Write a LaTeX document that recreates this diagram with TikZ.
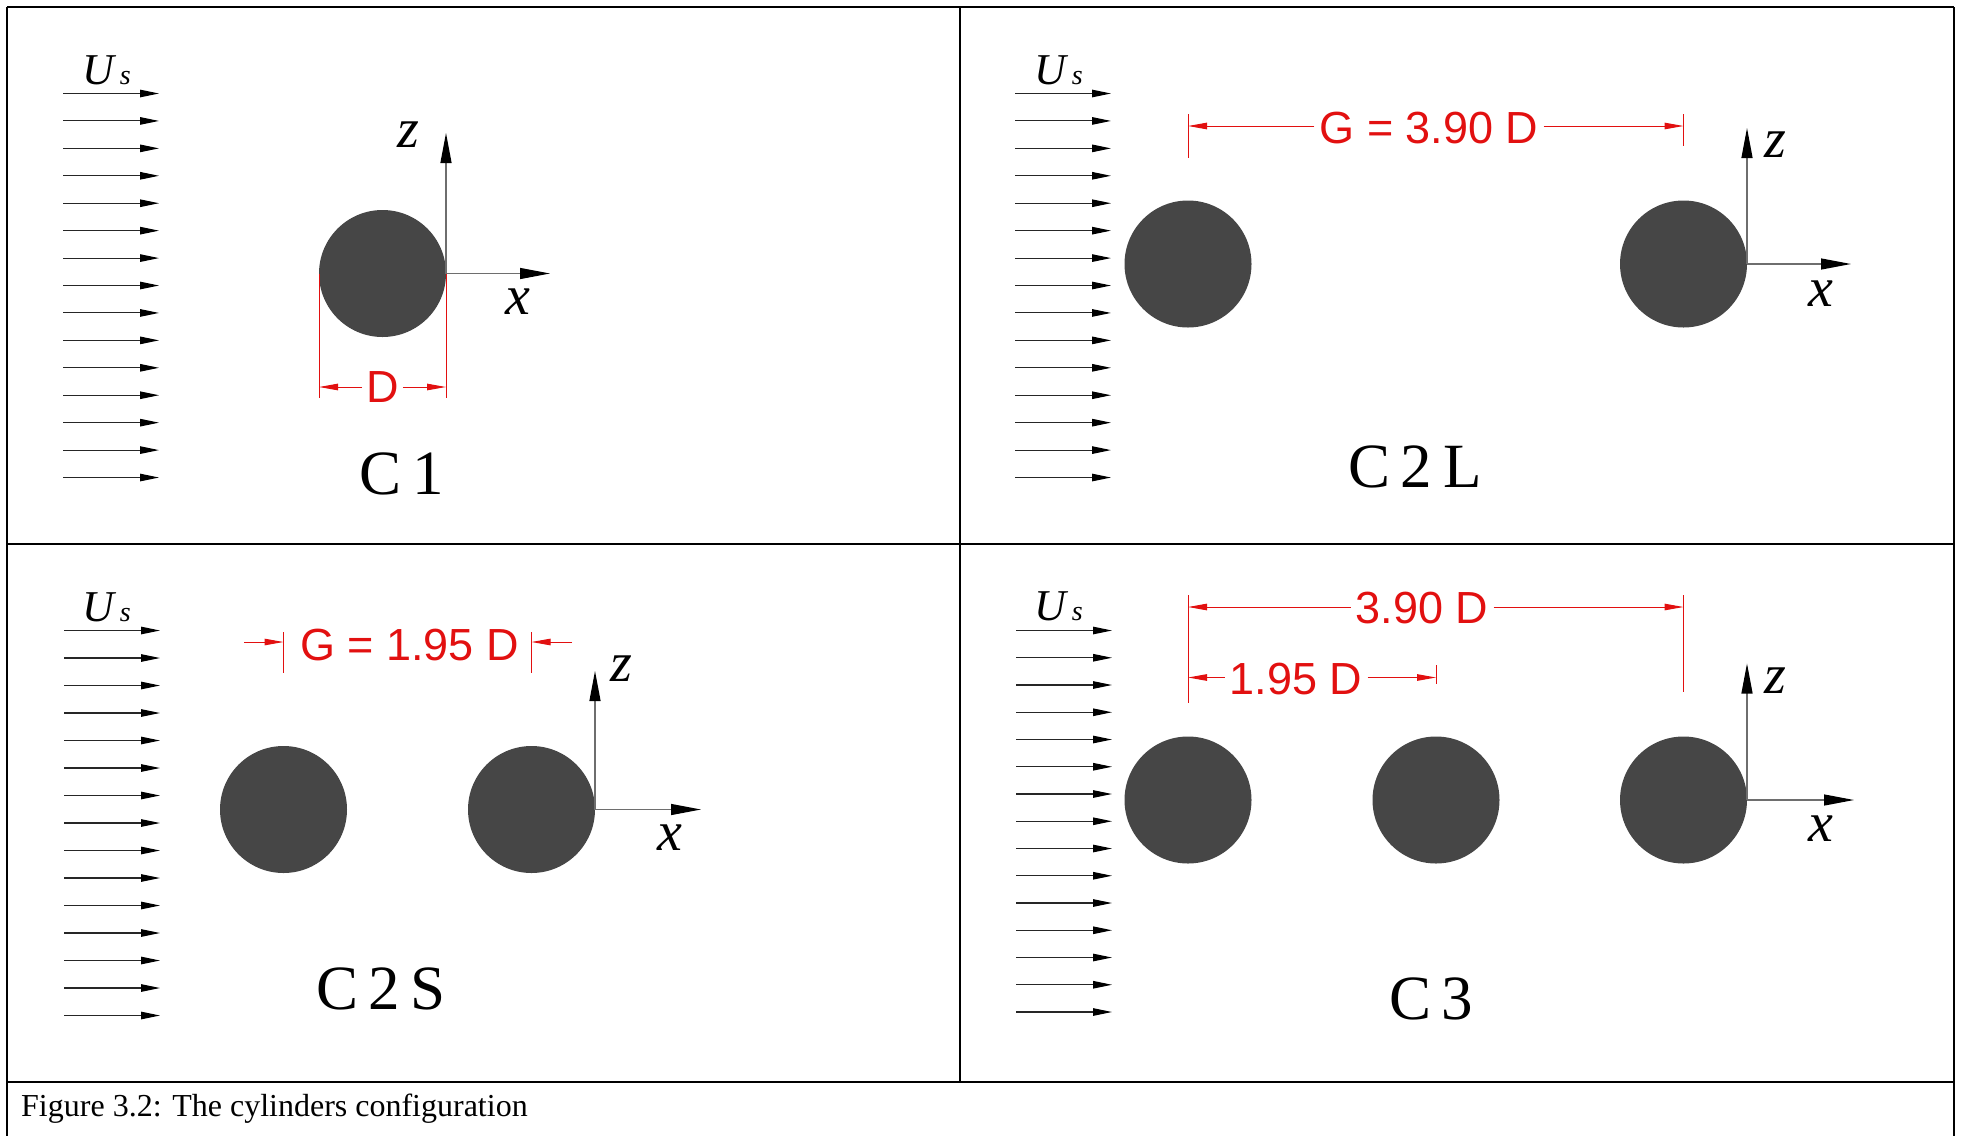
\documentclass[tikz,border=0pt]{standalone}
\usepackage{fontspec}
\setmainfont{Liberation Serif}
\newfontfamily\arialfont{Liberation Sans}
\usetikzlibrary{arrows.meta}
\definecolor{cylgray}{RGB}{70,70,70}
\definecolor{dimred}{RGB}{226,16,16}
\definecolor{axgray}{RGB}{110,110,110}
\newcommand{\flowcol}[4]{%
  \foreach \k in {0,...,14}{%
    \coordinate (#1s\k) at (#2,{#3+#4*\k});
    \coordinate (#1e\k) at ({#2+96},{#3+#4*\k});
    \draw[flowarrow] (#1s\k) -- (#1e\k);
  }}
\begin{document}
\begin{tikzpicture}[x=1pt,y=-1pt,
  frame/.style={line width=2.2pt,black},
  flowarrow/.style={line width=1.1pt,black!85,-{Triangle[length=19pt,width=7.5pt,color=black]}},
  cylbody/.style={circle,fill=cylgray,minimum size=127pt,inner sep=0pt},
  axisline/.style={line width=1.2pt,axgray,-{Triangle[length=30pt,width=11pt,color=black]}},
  axlbl/.style={inner sep=0pt,font=\fontsize{56}{56}\selectfont\itshape},
  uslbl/.style={anchor=base west,inner sep=0pt},
  cfg/.style={anchor=base,inner sep=0pt,font=\fontsize{63}{63}\selectfont},
  dimtext/.style={inner sep=5pt,text=dimred,font=\fontsize{45}{45}\selectfont\arialfont},
  dimarrow/.style={line width=1pt,dimred,-{Triangle[length=19pt,width=6.5pt]}},
  extline/.style={line width=1pt,dimred}
]
\useasboundingbox (0,0) rectangle (1963,1136);
% frame
\draw[frame] (7,7) -- (1954,7);
\draw[frame] (7,7) -- (7,1136);
\draw[frame] (1954,7) -- (1954,1136);
\draw[frame] (7,543.7) -- (1954,543.7);
\draw[frame] (960,7) -- (960,1082);
\draw[frame] (7,1082) -- (1954,1082);

% ---------- C1 ----------
\flowcol{fa}{63}{93.5}{27.43}
\node[uslbl] (us1) at (82,84) {\fontsize{44}{44}\selectfont\itshape U\hspace{6pt}\fontsize{28}{28}\selectfont s};
\node[cylbody] (c1a) at (382.5,273.5) {};
\coordinate (o1) at (446,273.5);
\coordinate (z1) at (446,133);
\coordinate (x1) at (550,273.5);
\draw[axisline] (o1) -- (z1);
\draw[axisline] (o1) -- (x1);
\node[axlbl] (zl1) at (408,135) {z};
\node[axlbl] (xl1) at (518,302) {x};
\coordinate (e1at) at (319,273.5);
\coordinate (e1ab) at (319,398);
\coordinate (e1bt) at (446,273.5);
\coordinate (e1bb) at (446,398);
\draw[extline] (e1at) -- (e1ab);
\draw[extline] (e1bt) -- (e1bb);
\node[dimtext,inner sep=4pt] (dD) at (382.5,387) {D};
\coordinate (d1l) at (319,387);
\coordinate (d1r) at (446,387);
\draw[dimarrow] (dD.west |- d1l) -- (d1l);
\draw[dimarrow] (dD.east |- d1r) -- (d1r);
\node[cfg] (lc1) at (402,494.5) {C\,1};

% ---------- C2L ----------
\flowcol{fb}{1015}{93.5}{27.43}
\node[uslbl] (us2) at (1034,84) {\fontsize{44}{44}\selectfont\itshape U\hspace{6pt}\fontsize{28}{28}\selectfont s};
\node[cylbody] (c2a) at (1188,264) {};
\node[cylbody] (c2b) at (1683.5,264) {};
\coordinate (o2) at (1747,264);
\coordinate (z2) at (1747,128);
\coordinate (x2) at (1851,264);
\draw[axisline] (o2) -- (z2);
\draw[axisline] (o2) -- (x2);
\node[axlbl] (zl2) at (1775,145) {z};
\node[axlbl] (xl2) at (1820.5,294) {x};
\coordinate (e2at) at (1188,114);
\coordinate (e2ab) at (1188,158);
\coordinate (e2bt) at (1683.5,114);
\coordinate (e2bb) at (1683.5,146);
\draw[extline] (e2at) -- (e2ab);
\draw[extline] (e2bt) -- (e2bb);
\node[dimtext] (dG1) at (1429,128) {G = 3.90 D};
\coordinate (d2l) at (1188,126);
\coordinate (d2r) at (1683.5,126);
\draw[dimarrow] (dG1.west |- d2l) -- (d2l);
\draw[dimarrow] (dG1.east |- d2r) -- (d2r);
\node[cfg] (lc2) at (1415,487) {C\,2\,L};

% ---------- C2S ----------
\flowcol{fc}{64}{630.5}{27.5}
\node[uslbl] (us3) at (82,621.5) {\fontsize{44}{44}\selectfont\itshape U\hspace{6pt}\fontsize{28}{28}\selectfont s};
\node[cylbody] (c3a) at (283.5,809.5) {};
\node[cylbody] (c3b) at (531.5,809.5) {};
\coordinate (o3) at (595,809.5);
\coordinate (z3) at (595,671);
\coordinate (x3) at (701,809.5);
\draw[axisline] (o3) -- (z3);
\draw[axisline] (o3) -- (x3);
\node[axlbl] (zl3) at (621.5,669) {z};
\node[axlbl] (xl3) at (670,838) {x};
\coordinate (e3at) at (283.5,632);
\coordinate (e3ab) at (283.5,673);
\coordinate (e3bt) at (531.5,632);
\coordinate (e3bb) at (531.5,673);
\draw[extline] (e3at) -- (e3ab);
\draw[extline] (e3bt) -- (e3bb);
\node[dimtext] (dG2) at (409.5,645) {G = 1.95 D};
\coordinate (d3lo) at (244,642);
\coordinate (d3l) at (283.5,642);
\coordinate (d3ro) at (572,642);
\coordinate (d3r) at (531.5,642);
\draw[dimarrow] (d3lo) -- (d3l);
\draw[dimarrow] (d3ro) -- (d3r);
\node[cfg] (lc3) at (381,1009) {C\,2\,S};

% ---------- C3 ----------
\flowcol{fd}{1016}{630.5}{27.25}
\node[uslbl] (us4) at (1034,620.5) {\fontsize{44}{44}\selectfont\itshape U\hspace{6pt}\fontsize{28}{28}\selectfont s};
\node[cylbody] (c4a) at (1188,800) {};
\node[cylbody] (c4b) at (1436,800) {};
\node[cylbody] (c4c) at (1683.5,800) {};
\coordinate (o4) at (1747,800);
\coordinate (z4) at (1747,663.5);
\coordinate (x4) at (1854,800);
\draw[axisline] (o4) -- (z4);
\draw[axisline] (o4) -- (x4);
\node[axlbl] (zl4) at (1775,681) {z};
\node[axlbl] (xl4) at (1821,829) {x};
\coordinate (e4at) at (1188,595);
\coordinate (e4ab) at (1188,703);
\coordinate (e4bt) at (1683.5,595);
\coordinate (e4bb) at (1683.5,692);
\coordinate (e4ct) at (1436,665);
\coordinate (e4cb) at (1436,684);
\draw[extline] (e4at) -- (e4ab);
\draw[extline] (e4bt) -- (e4bb);
\draw[extline] (e4ct) -- (e4cb);
\node[dimtext] (dL) at (1422,608) {3.90 D};
\coordinate (d4l) at (1188,607);
\coordinate (d4r) at (1683.5,607);
\draw[dimarrow] (dL.west |- d4l) -- (d4l);
\draw[dimarrow] (dL.east |- d4r) -- (d4r);
\node[dimtext] (dS) at (1296,679) {1.95 D};
\coordinate (d5l) at (1188,677.5);
\coordinate (d5r) at (1436,677.5);
\draw[dimarrow] (dS.west |- d5l) -- (d5l);
\draw[dimarrow] (dS.east |- d5r) -- (d5r);
\node[cfg] (lc4) at (1431,1019) {C\,3};

% caption
\node[anchor=base west,inner sep=0pt,font=\fontsize{32}{32}\selectfont] (cap) at (21,1116) {Figure 3.2: The cylinders configuration};
\end{tikzpicture}
\end{document}
